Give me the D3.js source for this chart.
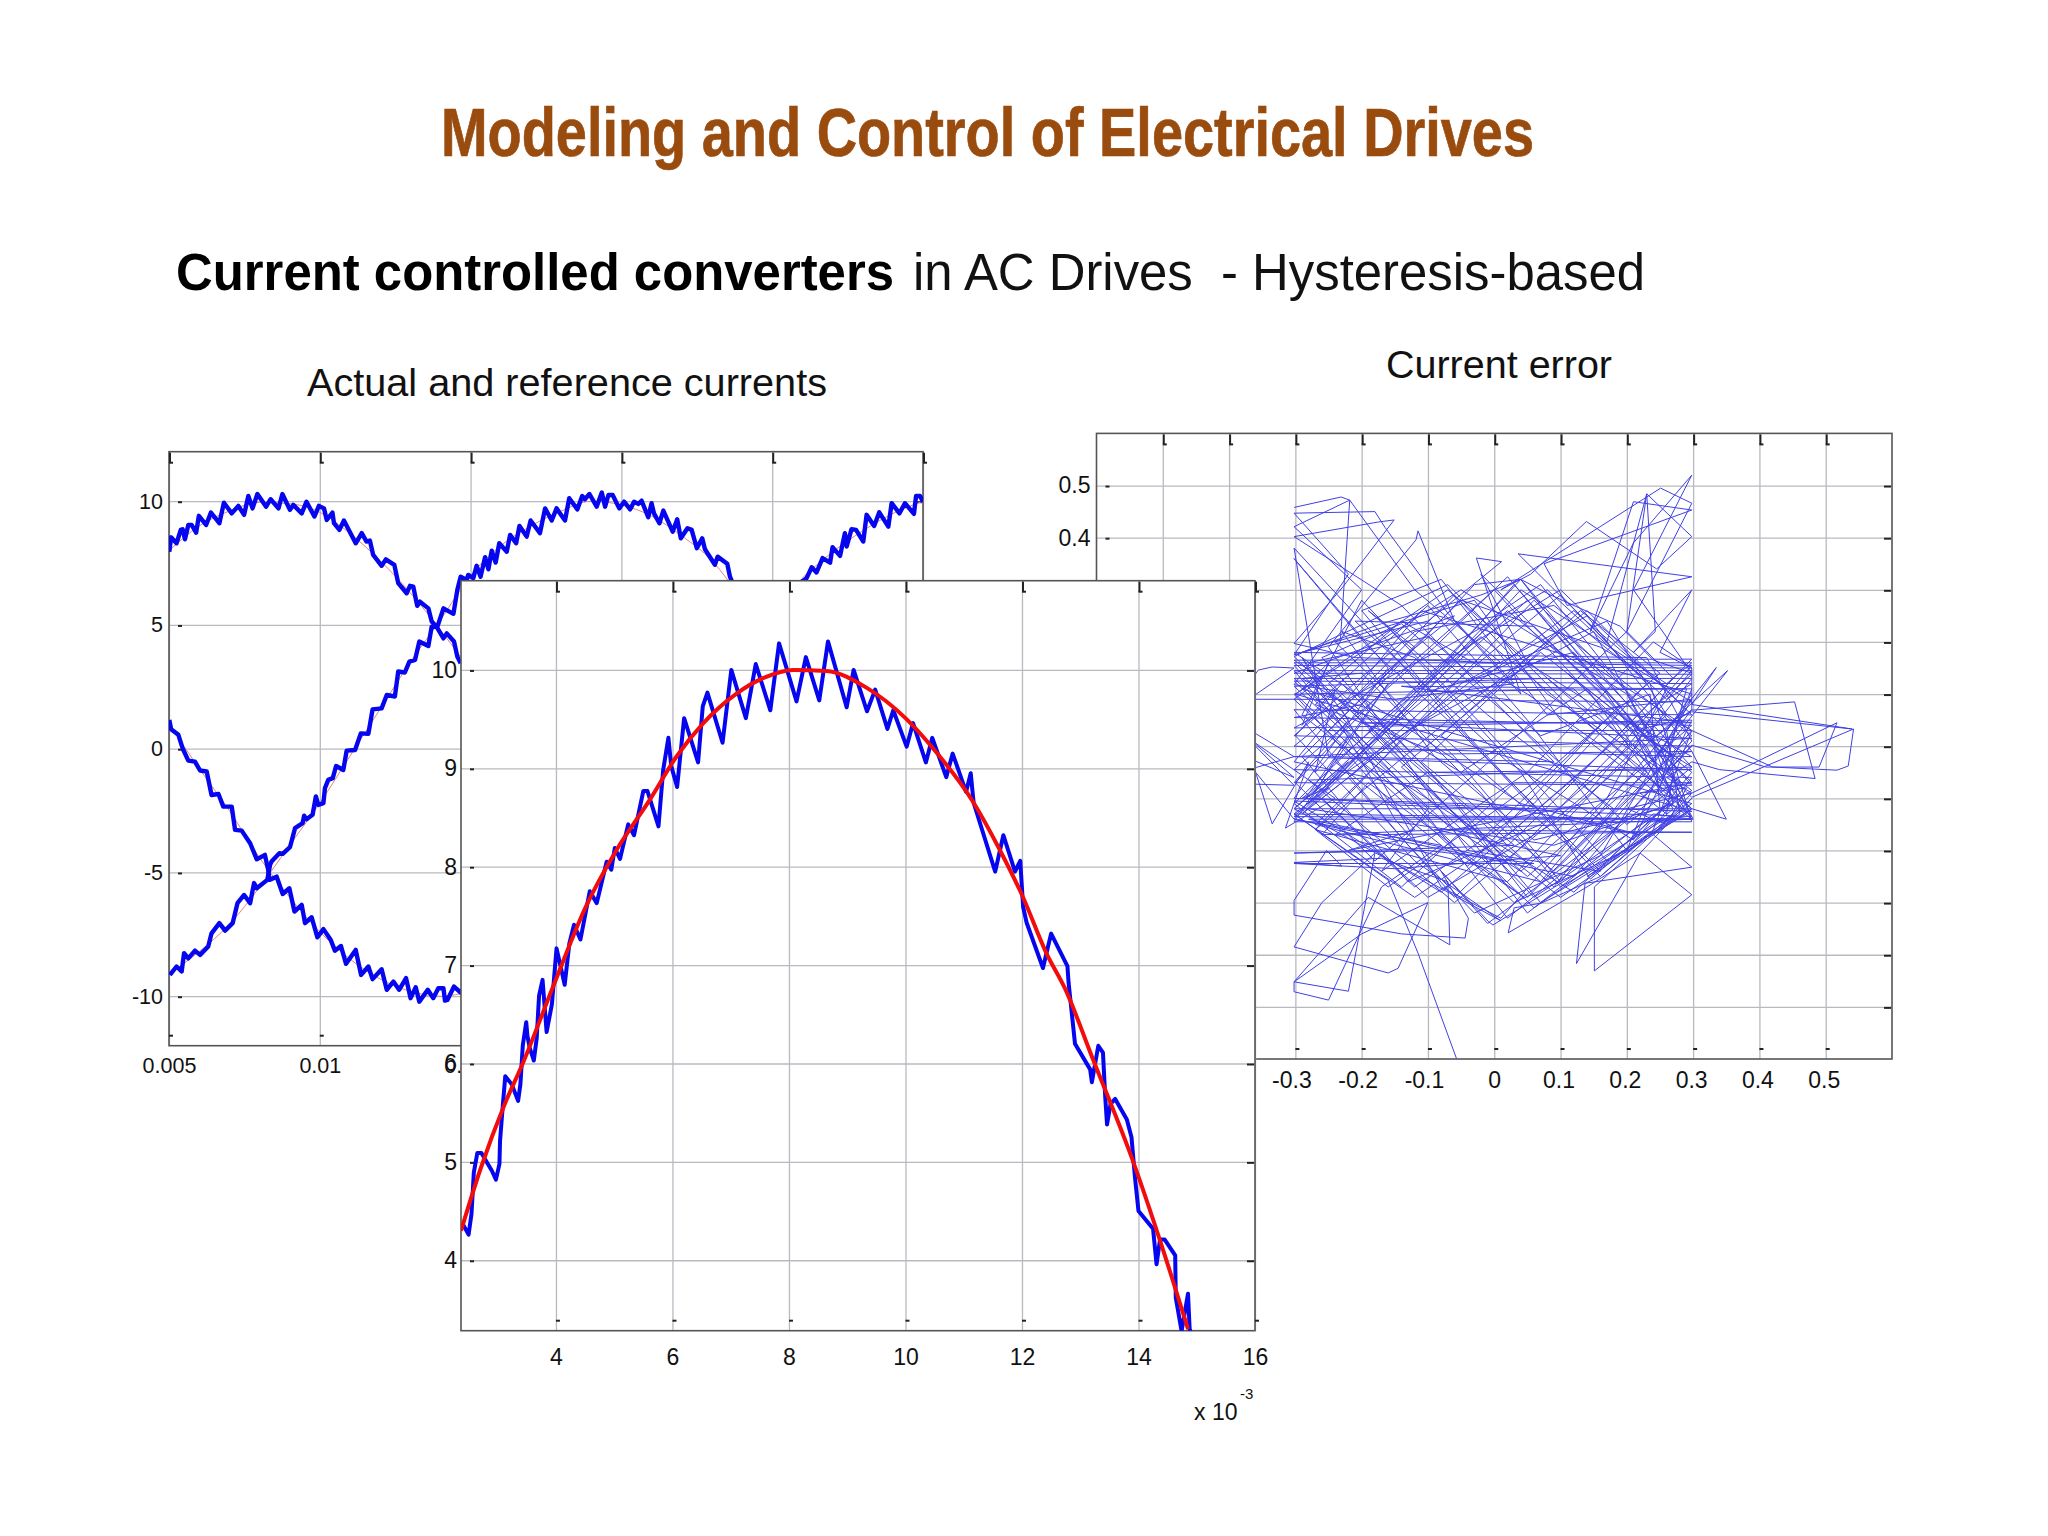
<!DOCTYPE html>
<meta charset="utf-8">
<title>Modeling and Control of Electrical Drives</title>
<script src="https://d3js.org/d3.v7.min.js"></script>
<style>
  html, body { margin: 0; padding: 0; background: #fff; }
  text { font-family: "Liberation Sans", Arial, sans-serif; fill: #111; }
  .narrow { font-family: "Liberation Sans Narrow", "Liberation Sans", Arial, sans-serif; }
  .grid line { stroke: #b9b9c2; stroke-width: 1.3; }
  .grid path, .labels path, .labels line { display: none; }
  .box { fill: none; stroke: #555; stroke-width: 1.6; }
  .mark { stroke: #222; stroke-width: 2; }
</style>
<body>
<svg width="2048" height="1536"></svg>
<script>

// ---- left plot: actual currents (time in ms, amps)
var currentA = [[5.01,7.96],[5.07,8.54],[5.25,8.30],[5.39,8.84],[5.45,8.87],[5.53,8.46],[5.64,9.04],[5.75,9.04],[5.90,8.73],[5.99,9.41],[6.23,9.04],[6.39,9.54],[6.67,9.11],[6.82,9.94],[7.08,9.51],[7.30,9.81],[7.49,9.45],[7.63,10.21],[7.77,9.71],[7.93,10.29],[8.22,9.78],[8.37,10.08],[8.63,9.71],[8.76,10.29],[9.01,9.65],[9.12,9.85],[9.40,9.51],[9.56,9.98],[9.82,9.38],[9.97,9.81],[10.14,9.71],[10.23,9.24],[10.42,9.54],[10.47,9.11],[10.65,8.84],[10.80,9.22],[11.19,8.30],[11.39,8.71],[11.55,8.37],[11.66,8.41],[11.77,7.83],[12.05,7.39],[12.19,7.65],[12.47,7.43],[12.60,6.69],[12.88,6.28],[12.99,6.58],[13.10,6.55],[13.23,5.77],[13.32,5.94],[13.60,5.67],[13.71,5.14],[13.87,4.93],[14.10,4.46],[14.21,4.66],[14.45,4.33],[14.56,3.72],[14.67,3.45]];
var currentB = [[5.03,-9.14],[5.25,-8.80],[5.42,-9.00],[5.50,-8.26],[5.64,-8.47],[5.86,-8.16],[6.03,-8.33],[6.30,-7.99],[6.41,-7.46],[6.67,-7.05],[6.86,-7.35],[7.11,-7.05],[7.27,-6.24],[7.49,-5.91],[7.69,-6.24],[7.82,-5.43],[7.91,-5.64],[8.26,-5.30],[8.35,-4.69],[8.40,-4.56],[8.66,-4.22],[8.77,-4.25],[9.01,-3.98],[9.18,-3.21],[9.43,-3.01],[9.48,-2.71],[9.56,-2.85],[9.76,-2.67],[9.87,-1.93],[9.95,-2.27],[10.12,-2.20],[10.17,-1.60],[10.28,-1.26],[10.43,-1.19],[10.54,-0.70],[10.78,-0.86],[10.89,-0.08],[11.17,-0.05],[11.36,0.62],[11.61,0.60],[11.75,1.59],[12.05,1.63],[12.22,2.17],[12.49,2.11],[12.60,3.12],[12.82,3.08],[12.97,3.52],[13.16,3.59],[13.30,4.33],[13.60,4.15],[13.71,4.93],[13.90,4.93],[14.10,5.67],[14.43,5.45],[14.56,6.42],[14.67,6.95],[14.87,6.82],[14.92,7.02],[15.09,6.89],[15.20,7.39],[15.33,6.95],[15.48,7.74],[15.59,7.25],[15.70,8.00],[15.83,7.52],[15.95,8.30],[16.20,7.96],[16.31,8.64],[16.51,8.30],[16.62,9.00],[16.86,8.57],[16.99,9.22],[17.30,8.71],[17.47,9.71],[17.69,9.22],[17.85,9.71],[18.13,9.22],[18.27,10.12],[18.54,9.67],[18.70,10.21],[18.79,10.08],[18.94,10.29],[19.18,9.78],[19.35,10.35],[19.46,9.78],[19.57,10.25],[19.71,10.25],[19.93,9.71],[20.09,9.98],[20.29,9.67],[20.42,9.98],[20.56,9.89],[20.67,10.02],[20.89,9.35],[21.00,9.92],[21.08,9.51],[21.26,9.11],[21.39,9.62],[21.70,8.77],[21.85,9.27],[21.97,8.50],[22.19,8.91],[22.33,8.84],[22.50,8.10],[22.68,8.50],[22.77,8.06],[23.10,7.43],[23.19,7.76],[23.51,7.47],[23.60,6.95],[23.69,6.68]];
var currentC = [[5.01,1.16],[5.07,0.79],[5.31,0.56],[5.45,0.02],[5.64,-0.48],[5.86,-0.52],[6.03,-0.88],[6.25,-0.92],[6.41,-1.87],[6.64,-1.83],[6.80,-2.34],[7.08,-2.34],[7.19,-3.28],[7.41,-3.31],[7.69,-3.82],[7.91,-4.47],[8.18,-4.29],[8.29,-4.90],[8.33,-5.30],[8.57,-5.17],[8.77,-5.87],[8.99,-5.64],[9.16,-6.58],[9.40,-6.31],[9.51,-7.05],[9.73,-6.81],[9.92,-7.62],[10.12,-7.29],[10.36,-7.72],[10.50,-8.16],[10.70,-7.97],[10.87,-8.69],[11.19,-8.13],[11.37,-9.14],[11.61,-8.80],[11.75,-9.31],[12.05,-8.91],[12.22,-9.74],[12.44,-9.41],[12.63,-9.74],[12.86,-9.27],[13.01,-10.08],[13.18,-9.64],[13.30,-10.22],[13.58,-9.74],[13.76,-10.08],[13.93,-9.68],[14.10,-9.68],[14.15,-10.18],[14.23,-10.15],[14.45,-9.61],[14.67,-9.85],[25.98,6.75],[26.14,6.89],[26.31,7.33],[26.47,7.12],[26.67,7.70],[26.92,7.52],[27.00,8.14],[27.25,7.79],[27.41,8.71],[27.47,8.17],[27.63,8.87],[27.78,8.84],[28.02,8.37],[28.13,9.45],[28.38,9.00],[28.55,9.55],[28.85,8.97],[28.96,9.92],[29.22,9.51],[29.40,9.92],[29.70,9.49],[29.77,10.21],[29.90,10.21],[30.00,9.98]];

// reference currents of the left plot
var refA = [[5,8.0],[6,9.0],[7,9.6],[8,9.95],[9,9.9],[10,9.55],[11,8.7],[12,7.6],[13,6.3],[14,4.8],[14.67,3.7]];
var refB = [[5,-9.1],[6,-8.2],[7,-7.1],[8,-5.6],[9,-3.9],[10,-2.2],[11,-0.3],[12,1.6],[13,3.5],[14,5.2],[15,7.0],[16,8.2],[17,9.0],[18,9.6],[19,10],[20,9.85],[21,9.4],[22,8.6],[23,7.6],[24,6.0]];
var refC = [[5,1.0],[6,-0.8],[7,-2.5],[8,-4.4],[9,-6.0],[10,-7.4],[11,-8.5],[12,-9.3],[13,-9.8],[14,-10],[14.67,-9.9]];
var refC2 = [[26,6.9],[27,7.95],[28,8.8],[29,9.5],[30,10]];

// ---- zoomed plot, one phase
var zoomActual = [[2.40,4.37],[2.50,4.26],[2.55,4.47],[2.59,4.89],[2.65,5.09],[2.72,5.09],[2.90,4.91],[2.97,4.82],[3.03,4.98],[3.04,5.21],[3.09,5.59],[3.13,5.87],[3.24,5.79],[3.35,5.62],[3.39,5.79],[3.43,6.18],[3.49,6.42],[3.51,6.28],[3.55,6.16],[3.62,6.03],[3.67,6.26],[3.71,6.69],[3.77,6.85],[3.84,6.32],[3.93,6.60],[4.01,7.17],[4.15,6.80],[4.23,7.22],[4.31,7.41],[4.42,7.26],[4.58,7.75],[4.70,7.63],[4.87,8.05],[4.95,7.97],[5.01,8.19],[5.10,8.08],[5.24,8.43],[5.34,8.32],[5.50,8.77],[5.57,8.77],[5.76,8.41],[5.84,8.98],[5.93,9.31],[5.98,9.02],[6.08,8.81],[6.20,9.51],[6.44,9.06],[6.52,9.63],[6.60,9.77],[6.86,9.26],[7.01,10.0],[7.26,9.51],[7.43,10.06],[7.68,9.59],[7.83,10.27],[8.13,9.68],[8.29,10.13],[8.52,9.69],[8.67,10.29],[8.99,9.62],[9.11,10.0],[9.34,9.58],[9.48,9.80],[9.69,9.40],[9.79,9.59],[10.02,9.22],[10.13,9.46],[10.35,9.06],[10.46,9.31],[10.70,8.91],[10.81,9.15],[11.04,8.76],[11.12,8.95],[11.17,8.65],[11.54,7.95],[11.68,8.32],[11.88,7.95],[11.97,8.06],[12.02,7.59],[12.08,7.43],[12.36,6.97],[12.50,7.32],[12.78,6.99],[12.80,6.82],[12.85,6.54],[12.91,6.20],[13.17,5.94],[13.20,5.81],[13.31,6.18],[13.39,6.11],[13.43,5.65],[13.46,5.38],[13.52,5.59],[13.60,5.64],[13.80,5.43],[13.88,5.25],[13.94,4.84],[14.00,4.50],[14.25,4.32],[14.31,3.96],[14.37,4.21],[14.45,4.21],[14.63,4.05],[14.64,3.62],[14.74,3.28],[14.85,3.66],[14.88,3.28],[14.92,3.28]];
var zoomRef = [[2.37,4.30],[2.70,4.92],[3.13,5.60],[3.43,6.00],[3.95,6.78],[4.51,7.59],[5.04,8.17],[5.61,8.68],[6.07,9.12],[6.53,9.46],[7.10,9.76],[7.61,9.93],[8.07,10],[8.64,9.99],[9.33,9.82],[10,9.51],[10.45,9.22],[11.17,8.65],[11.62,8.17],[12.01,7.70],[12.42,7.12],[12.74,6.76],[13.22,6.04],[13.91,5.0],[14.37,4.2],[14.85,3.3]];

// ---- right plot: current error trajectory (alpha, beta)
var errorPath = [
  [-0.302,0.458],[-0.231,0.478],[-0.218,0.472],[-0.232,0.205],[-0.302,0.175],[-0.22,0.33],[-0.302,0.447],[-0.18,0.45],[-0.165,0.42],[-0.07,0.255],[0.03,0.12],[-0.15,0.09],[-0.302,0.118],[-0.20,0.30],
  [-0.302,0.421],[-0.218,0.472],[-0.12,0.30],[0.01,0.16],[-0.21,0.17],[-0.302,0.197],[-0.228,0.306],[-0.151,0.434],[-0.175,0.43],[-0.302,0.402],[-0.14,0.27],[-0.01,0.10],[0.09,-0.03],[-0.25,-0.02],
  [-0.302,0.38],[-0.16,0.185],[-0.05,0.03],[0.06,-0.12],[-0.302,-0.10],[-0.16,0.15],[-0.302,0.36],[-0.19,0.19],[-0.07,0.05],[0.05,-0.10],[0.16,-0.24],[-0.04,-0.20],[-0.25,0.19],[-0.118,0.396],[-0.115,0.413],[-0.06,0.24],[0.04,0.10],
  [-0.027,0.361],[0.011,0.354],[-0.10,0.24],[-0.29,0.18],[-0.17,0.235],[-0.02,0.29],[0.04,0.32],[0.085,0.29],[0.19,0.23],[0.24,0.165],[0.298,0.14],[0.21,0.30],
  [0.298,0.52],[0.21,0.39],[0.145,0.22],[0.21,0.469],[0.298,0.453],[0.075,0.35],[0.11,0.27],[0.298,0.325],[0.036,0.369],[0.17,0.20],[0.23,0.484],[0.298,0.402],[0.245,0.34],[0.139,0.431],[0.055,0.33],[0.01,0.30],
  [0.251,0.495],[0.298,0.466],[0.20,0.22],[0.23,0.484],[0.243,0.22],[0.21,0.18],[0.298,0.30],[0.25,0.18],[0.298,0.15],
  [0.298,0.069],[0.453,0.085],[0.484,-0.062],[0.34,-0.045],[0.298,-0.03],[0.26,-0.06],[0.298,-0.09],[0.517,0.045],[0.49,-0.04],[0.41,-0.04],[0.298,0.002],[0.26,-0.05],[0.298,-0.098],[0.542,0.033],[0.534,-0.038],[0.517,-0.046],[0.42,-0.04],[0.298,0.03],[0.27,0.05],[0.298,0.066],[0.54,0.033],
  [0.298,0.08],[0.335,0.151],[0.26,0.03],[0.27,0.05],[0.352,0.145],[0.25,-0.02],[0.298,-0.01],[0.35,-0.14],[0.298,-0.12],[0.24,-0.17],
  [0.298,-0.232],[0.137,-0.263],[0.124,-0.417],[0.22,-0.205],[0.298,-0.10],[0.151,-0.27],[0.151,-0.431],[0.298,-0.285],[0.22,-0.205],[0.14,-0.27],[0.021,-0.358],[0.03,-0.31],[0.071,-0.301],[0.16,-0.25],[0.27,-0.13],
  [-0.002,-0.343],[-0.009,-0.336],[-0.08,-0.24],[-0.039,-0.33],[-0.044,-0.368],[-0.14,-0.36],[-0.302,-0.324],[-0.302,-0.296],[-0.253,-0.20],[-0.23,-0.23],[-0.302,-0.223],[-0.17,-0.215],[-0.07,-0.26],[-0.067,-0.381],[-0.19,-0.29],[-0.302,-0.452],[-0.20,-0.36],[-0.10,-0.30],[-0.145,-0.426],[-0.16,-0.435],[-0.302,-0.385],[-0.26,-0.30],[-0.18,-0.205],[-0.22,-0.47],[-0.302,-0.452],[-0.302,-0.471],[-0.25,-0.487],[-0.17,-0.27],[-0.08,-0.19],[-0.302,-0.14],
  [-0.36,-0.05],[-0.335,-0.149],[-0.28,-0.03],[-0.315,-0.157],[-0.24,-0.10],[-0.41,0.05],[-0.356,0.146],[-0.335,0.152],[-0.302,0.15],[-0.45,0.02],[-0.302,-0.06],[-0.42,0.07],[-0.302,-0.02],[-0.44,-0.07],[-0.302,-0.075],[-0.43,0.09],[-0.302,0.09],[-0.26,0.13],
  [-0.302,0.165],[0.298,0.167],[0.14,-0.04],[-0.08,-0.28],[-0.302,-0.105],[0.298,-0.135],[0.11,0.08],[-0.07,0.31],[-0.302,0.172],[-0.12,-0.05],[0.06,-0.29],[0.298,-0.085],[0.08,0.13],[-0.302,0.115],[-0.10,-0.12],[-0.17,-0.24],
  [0.05,-0.05],[0.24,0.20],[0.298,0.15],[-0.302,0.155],[-0.14,-0.07],[0.02,-0.33],[0.298,-0.04],[0.05,0.16],[-0.02,0.33],[0.20,0.05],[0.298,-0.02],[-0.302,0.0],[-0.06,0.25],[-0.302,0.14],[0.298,0.138],
  [0.03,-0.16],[-0.12,-0.29],[-0.302,-0.13],[0.298,-0.14],[0.10,0.05],[-0.03,0.28],[-0.24,0.20],[-0.06,-0.02],[0.10,-0.26],[0.298,0.03],[0.13,0.17],[0.04,0.32],[-0.18,0.02],[-0.302,-0.12],[0.298,-0.12],
  [0.12,0.11],[-0.302,0.10],[-0.12,-0.16],[-0.22,-0.20],[0.298,-0.07],[0.06,0.23],[-0.21,0.24],[0.02,-0.03],[0.21,-0.18],[0.298,0.05],[-0.302,0.035],[-0.03,0.22],[0.08,0.30],[0.26,0.09],[0.298,0.12],[-0.302,0.125],
  [-0.08,-0.14],[0.06,-0.31],[0.25,-0.14],[0.298,-0.06],[-0.302,-0.045],[-0.09,0.19],[0.02,0.325],[0.22,0.03],[0.298,-0.07],[0.03,-0.07],[-0.14,-0.27],[-0.302,-0.11],[-0.08,0.16],[0.10,0.30],[0.298,0.06],[-0.302,0.07],
  [-0.13,-0.19],[-0.03,-0.32],[0.16,-0.21],[0.298,0.09],[0.08,0.06],[-0.08,0.32],[-0.20,0.26],[-0.04,0.02],[0.16,-0.25],[0.24,-0.16],[0.298,0.03],[-0.25,0.03],[-0.05,0.28],[0.16,0.19],[0.298,0.085],[-0.302,0.09],
  [-0.06,-0.20],[0.045,-0.29],[-0.19,-0.07],[-0.26,-0.17],[0.298,-0.14],[0.17,0.10],[0.03,0.31],[-0.15,0.05],[-0.302,-0.14],[0.12,-0.25],[0.298,0.01],[0.23,0.17],[-0.302,0.18],[0.04,-0.11],[0.22,-0.17],
  [-0.302,-0.03],[-0.11,0.26],[0.298,0.10],[0.25,0.01],[0.07,-0.26],[-0.27,-0.15],[-0.05,0.12],[0.14,0.25],[0.298,-0.01],[-0.08,-0.015],[-0.27,0.08],[-0.10,0.27],[0.05,0.05],[0.20,-0.20],[0.298,0.11],
  [-0.10,0.105],[0.12,0.18],[0.235,0.01],[0.298,0.07],[0.09,-0.27],[-0.05,-0.11],[-0.23,0.12],[-0.30,0.02],[-0.12,-0.22],[0.01,-0.335],[-0.302,-0.12],[-0.04,0.16],[0.298,0.155],[0.19,0.0],[0.02,-0.22],
  [-0.28,-0.14],[0.30,-0.14],[0.24,0.01],[0.15,0.22],[-0.13,0.03],[-0.29,-0.13],[0.0,0.25],[0.07,0.31],[0.24,0.04],[0.298,-0.04],[-0.28,-0.065],[-0.06,-0.30],[0.14,-0.09],[0.298,0.145],[-0.302,0.145],
  [-0.15,-0.08],[0.03,-0.30],[0.2,-0.2],[0.298,-0.05],[0.11,0.14],[0.23,0.0],[0.27,-0.10],[0.17,-0.22],[-0.01,0.03],[-0.2,0.28],[-0.29,0.06],[-0.13,-0.10],[0.04,-0.24],[0.298,0.04],[-0.302,0.055],
  [-0.2,0.08],[-0.03,0.31],[0.04,0.32],[0.235,0.03],[0.27,-0.11],[0.09,-0.19],[-0.28,-0.12],[-0.09,0.12],[0.04,0.30],[0.26,0.12],[0.298,0.16],[-0.302,0.16],[-0.07,-0.09],[0.07,-0.30],[0.298,-0.12],
  [0.05,0.10],[-0.14,0.24],[-0.25,0.12],[-0.06,-0.13],[0.10,-0.29],[0.28,-0.13],[0.26,0.03],[0.06,0.28],[-0.15,0.0],[-0.27,-0.16],[0.02,-0.26],[0.23,0.02],[0.298,0.13],[-0.302,0.13],[-0.04,-0.17],
  [0.05,-0.32],[0.24,-0.13],[0.298,-0.14],[-0.302,-0.135],[-0.11,0.10],[0.05,0.28],[0.24,0.03],[0.28,-0.09],[0.12,-0.28],[-0.20,-0.02],[-0.30,0.10],[-0.05,0.30],[0.20,0.10],[0.24,0.005],[0.298,-0.075],
  [-0.302,-0.07],[-0.22,0.05],[-0.29,0.17],[-0.15,-0.14],[-0.01,-0.34],[0.18,-0.16],[0.298,0.0],[-0.302,0.02],[-0.12,0.22],[0.09,0.27],[0.235,0.12],[0.298,-0.145],[-0.302,-0.145],[-0.16,0.12],[-0.285,-0.10],[0.298,-0.125],
  [-0.30,0.10],[-0.07,0.30],[0.16,0.04],[-0.02,-0.18],[-0.19,0.03],[0.02,0.26],[0.19,0.08],[-0.04,-0.23],[-0.24,-0.03],[-0.02,0.21],[0.23,-0.05],[0.05,-0.25],[-0.14,-0.04],[0.07,0.18],[0.27,-0.02],[0.09,-0.24],
  [-0.11,-0.03],[0.10,0.22],[0.298,0.02],[0.12,-0.20],[-0.08,0.02],[0.13,0.26],[0.25,0.14],[0.06,-0.07],[-0.16,-0.27],[-0.27,-0.16],[-0.05,0.07],[0.14,0.26],[0.29,0.07],[0.10,-0.14],[-0.10,-0.29],[-0.26,-0.10],
  [-0.03,0.13],[0.17,0.24],[0.26,0.06],[0.07,-0.15],[-0.13,-0.26],[-0.29,-0.02],[-0.12,0.19],[-0.19,0.26],[-0.01,0.06],[0.18,-0.12],[0.05,-0.29],[-0.09,-0.06],[-0.26,0.17],[-0.14,0.235],[0.02,0.06],[0.20,-0.15],
  [0.28,-0.07],[0.08,0.10],[-0.06,0.29],[-0.23,0.07],[-0.08,-0.27],[0.01,-0.33],[0.17,-0.10],[0.26,0.11],[0.12,0.26],[-0.07,0.08],[-0.27,-0.09],[-0.12,-0.27],[0.06,-0.11],[0.23,0.12],[0.10,0.29],[-0.09,0.09],
  [-0.22,-0.06],[-0.06,-0.29],[0.11,-0.08],[0.27,0.13],[0.20,0.22],[0.01,-0.01],[-0.18,-0.22],[-0.30,-0.07],[-0.15,0.13],[0.0,0.30],[0.18,0.05],[0.29,-0.13],[0.10,-0.27],[-0.02,-0.09],[-0.20,0.14],[-0.29,0.13],
  [-0.05,-0.05],[0.14,0.11],[0.27,-0.12],[0.145,-0.255],[0.04,-0.05],[-0.12,0.17],[-0.23,0.22],[-0.09,-0.02],[0.06,-0.18],[0.25,-0.12],[0.235,0.10],[0.07,0.02],[-0.10,0.21],[-0.28,0.16],[-0.12,-0.03],[0.03,-0.19],
  [-0.302,-0.205],[-0.10,-0.20],[0.06,-0.225],[-0.302,-0.225],[-0.15,-0.235],[0.10,-0.21],[-0.09,-0.16],[0.298,-0.165],[-0.24,-0.17],[-0.10,-0.05],[0.298,-0.045],[-0.302,-0.02],[0.298,0.015],[-0.20,0.045],[0.298,0.045],[-0.14,0.115],
  [0.29,0.11],[0.25,-0.08],[0.21,0.03],[0.28,0.05],[0.24,-0.03],[0.20,0.06],[0.27,-0.05],[0.26,-0.13],[0.22,-0.09],[0.29,-0.08],[0.26,-0.15],[0.20,-0.12],[0.298,-0.09],[0.24,-0.17],[0.14,-0.25],[0.298,-0.11],
  [-0.29,0.11],[-0.25,0.16],[-0.29,0.04],[-0.24,0.11],[-0.27,-0.05],[-0.22,0.02],[-0.28,-0.11],[-0.22,-0.03],[-0.29,-0.10],[-0.25,-0.08],[-0.302,-0.13],
  [-0.16,-0.257],[-0.115,-0.397],[-0.057,-0.599]
];

// ---- axis ticks and labels
var leftXTicks = [5, 10, 15, 20, 25, 30];
var leftXLabels = ["0.005", "0.01", "0.015", "0.02", "0.025", "0.03"];
var leftYTicks = [-10, -5, 0, 5, 10];
var zoomXTicks = [4, 6, 8, 10, 12, 14, 16];
var zoomYTicks = [4, 5, 6, 7, 8, 9, 10];
var errorTicks = [-0.5, -0.4, -0.3, -0.2, -0.1, 0, 0.1, 0.2, 0.3, 0.4, 0.5];

var svg = d3.select("svg");

// Draw grid, box, the little tick marks and the labels of one plot
function drawFrame(g, x, y, xTicks, yTicks, xFormat, fontSize, xPad, yPad, xShift) {
  var w = x.range()[1] - x.range()[0],
      h = y.range()[0] - y.range()[1];

  g.append("g").attr("class", "grid").attr("transform", "translate(0," + h + ")")
      .call(d3.axisBottom(x).tickValues(xTicks).tickSize(-h).tickFormat(""));
  g.append("g").attr("class", "grid")
      .call(d3.axisLeft(y).tickValues(yTicks).tickSize(-w).tickFormat(""));

  g.append("rect").attr("class", "box").attr("width", w).attr("height", h);

  // MATLAB-style ticks, they came out as short dashes in the screenshot
  xTicks.forEach(function(d) {
    g.append("line").attr("class", "mark").attr("x1", x(d)).attr("x2", x(d) + 4)
        .attr("y1", 11).attr("y2", 11);
    g.append("line").attr("class", "mark").attr("x1", x(d)).attr("x2", x(d) + 4)
        .attr("y1", h - 10).attr("y2", h - 10);
    g.append("line").attr("class", "mark").attr("x1", x(d) + 1).attr("x2", x(d) + 1)
        .attr("y1", 1).attr("y2", 11);
  });
  yTicks.forEach(function(d) {
    g.append("line").attr("class", "mark").attr("x1", 9).attr("x2", 13)
        .attr("y1", y(d) + 1).attr("y2", y(d) + 1);
    g.append("line").attr("class", "mark").attr("x1", w - 8).attr("x2", w - 1)
        .attr("y1", y(d) + 1).attr("y2", y(d) + 1);
  });

  var xLab = g.append("g").attr("class", "labels").attr("transform", "translate(0," + h + ")")
      .call(d3.axisBottom(x).tickValues(xTicks).tickSize(0).tickPadding(xPad).tickFormat(xFormat));
  var yLab = g.append("g").attr("class", "labels")
      .call(d3.axisLeft(y).tickValues(yTicks).tickSize(0).tickPadding(yPad)
          .tickFormat(function(d) { return String(d); }));
  xLab.selectAll("text").style("font-size", fontSize + "px")
      .attr("dx", function(d) { return d < 0 ? -xShift * 2 : (d > 0 ? -xShift : 0); });
  yLab.selectAll("text").style("font-size", fontSize + "px");
  xLab.attr("font-family", null).attr("font-size", null);
  yLab.attr("font-family", null).attr("font-size", null);
}

function addClip(id, x, y) {
  svg.append("clipPath").attr("id", id).append("rect")
      .attr("x", 0).attr("y", 0)
      .attr("width", x.range()[1] - x.range()[0])
      .attr("height", y.range()[0] - y.range()[1]);
}

function addLine(g, clip, data, x, y, color, width, curve) {
  g.append("path").datum(data)
      .attr("clip-path", "url(#" + clip + ")")
      .attr("fill", "none")
      .attr("stroke", color)
      .attr("stroke-width", width)
      .attr("stroke-linejoin", "round")
      .attr("d", d3.line()
          .x(function(d) { return x(d[0]); })
          .y(function(d) { return y(d[1]); })
          .curve(curve || d3.curveLinear));
}

// ---- left plot
var leftX = d3.scaleLinear().domain([5, 30]).range([0, 754]);
var leftY = d3.scaleLinear().domain([-12, 12]).range([594, 0]);
var left = svg.append("g").attr("transform", "translate(169,451.7)");
addClip("clipLeft", leftX, leftY);
drawFrame(left, leftX, leftY, leftXTicks, leftYTicks, function(d, i) { return leftXLabels[i]; }, 21.5, 12, 6, 0);
[refA, refB, refC, refC2].forEach(function(r) {
  addLine(left, "clipLeft", r, leftX, leftY, "#e88080", 1, d3.curveMonotoneX);
});
[currentA, currentB, currentC].forEach(function(c) {
  addLine(left, "clipLeft", c, leftX, leftY, "#0505f0", 4.4);
});

// ---- right plot
var errX = d3.scaleLinear().domain([-0.6, 0.6]).range([0, 795.5]);
var errY = d3.scaleLinear().domain([-0.6, 0.6]).range([625.6, 0]);
var right = svg.append("g").attr("transform", "translate(1096.5,433.4)");
addClip("clipRight", errX, errY);
drawFrame(right, errX, errY, errorTicks, errorTicks, function(d) { return String(d); }, 23, 13, 6, 2);
addLine(right, "clipRight", errorPath, errX, errY, "#4040e4", 1);

// ---- zoomed plot, sits on top of the two others with a white background
svg.append("rect").attr("x", 461).attr("y", 580.7).attr("width", 795).attr("height", 850).attr("fill", "#fff");
var zoomX = d3.scaleLinear().domain([2.37, 16]).range([0, 794]);
var zoomY = d3.scaleLinear().domain([3.284, 10.907]).range([750, 0]);
var zoom = svg.append("g").attr("transform", "translate(461,580.7)");
addClip("clipZoom", zoomX, zoomY);
drawFrame(zoom, zoomX, zoomY, zoomXTicks, zoomYTicks, function(d) { return String(d); }, 23, 18, 4, 0);
addLine(zoom, "clipZoom", zoomActual, zoomX, zoomY, "#0505f0", 4);
addLine(zoom, "clipZoom", zoomRef, zoomX, zoomY, "#f20c0c", 4, d3.curveMonotoneX);

// exponent label of the zoomed plot
svg.append("text").attr("x", 1194).attr("y", 1420).style("font-size", "23px").text("x 10");
svg.append("text").attr("x", 1240).attr("y", 1399).style("font-size", "15px").text("-3");

// ---- headings
svg.append("text").attr("class", "narrow").attr("x", 441).attr("y", 156)
    .attr("textLength", 1093).attr("lengthAdjust", "spacingAndGlyphs")
    .style("font-size", "68px").style("font-weight", "bold").style("fill", "#9a4b0e")
    .style("stroke", "#9a4b0e").style("stroke-width", 0.7)
    .text("Modeling and Control of Electrical Drives");
svg.append("text").attr("x", 176).attr("y", 290)
    .attr("textLength", 718).attr("lengthAdjust", "spacingAndGlyphs")
    .style("font-size", "51px").style("font-weight", "bold").style("fill", "#000")
    .text("Current controlled converters");
svg.append("text").attr("x", 913).attr("y", 290)
    .attr("textLength", 732).attr("lengthAdjust", "spacingAndGlyphs")
    .attr("xml:space", "preserve")
    .style("font-size", "51px").style("white-space", "pre")
    .text("in AC Drives  - Hysteresis-based");
svg.append("text").attr("x", 307).attr("y", 396)
    .attr("textLength", 520).attr("lengthAdjust", "spacingAndGlyphs")
    .style("font-size", "38px")
    .text("Actual and reference currents");
svg.append("text").attr("x", 1386).attr("y", 378)
    .attr("textLength", 226).attr("lengthAdjust", "spacingAndGlyphs")
    .style("font-size", "38px")
    .text("Current error");

</script>
</body>
